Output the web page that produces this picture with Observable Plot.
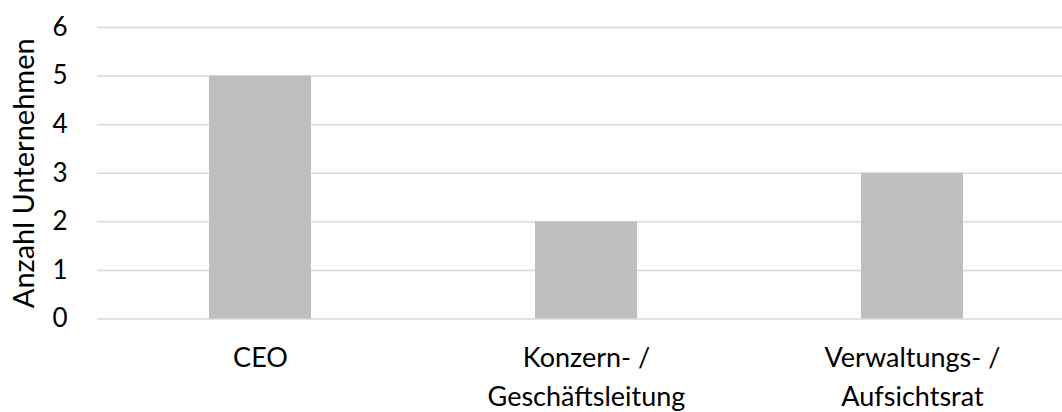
<!DOCTYPE html>
<html>
<head>
<meta charset="utf-8">
<script src="https://cdn.jsdelivr.net/npm/d3@7"></script>
<script src="https://cdn.jsdelivr.net/npm/@observablehq/plot@0.6"></script>
<style>
  html, body { margin: 0; padding: 0; background: #fff; }
  #chart svg { display: block; }
</style>
</head>
<body>
<div id="chart"></div>
<script>
const categories = ["CEO", "Konzern- /\nGeschäftsleitung", "Verwaltungs- /\nAufsichtsrat"];
const values = [5, 2, 3];
const yTicks = [0, 1, 2, 3, 4, 5, 6];
const yLabel = "Anzahl Unternehmen";

const data = categories.map((c, i) => ({category: c, value: values[i]}));

const chart = Plot.plot({
  width: 1062,
  height: 412,
  marginLeft: 97,
  marginRight: 0,
  marginTop: 27,
  marginBottom: 93.5,
  style: {fontFamily: "Lato, 'Open Sans', sans-serif", background: "#fff"},
  x: {domain: categories, range: [97, 1075], paddingInner: 0.687, paddingOuter: 0.3435, align: 0.5},
  y: {domain: [0, 6]},
  marks: [
    Plot.ruleY(yTicks, {stroke: "#d9d9d9", strokeWidth: 1.5}),
    Plot.barY(data, {x: "category", y: "value", fill: "#bfbfbf"}),
    Plot.axisY(yTicks, {
      tickSize: 0, tickPadding: 30, fontSize: 26, fill: "#000",
      label: null
    }),
    Plot.text([yLabel], {
      frameAnchor: "left", textAnchor: "middle", lineAnchor: "middle",
      dx: -73, rotate: -90, fontSize: 29, fill: "#000",
      text: d => d
    }),
    Plot.axisX({
      tickSize: 0, tickPadding: 20, fontSize: 27, fill: "#000",
      lineHeight: 1.45, label: null
    })
  ]
});
document.getElementById("chart").appendChild(chart);
</script>
</body>
</html>
